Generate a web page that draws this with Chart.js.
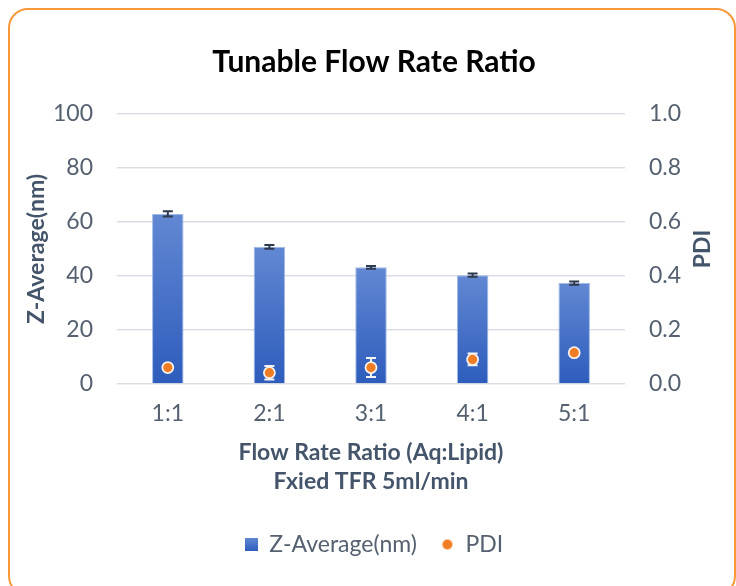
<!DOCTYPE html>
<html>
<head>
<meta charset="utf-8">
<script src="https://cdn.jsdelivr.net/npm/chart.js@4.4.1/dist/chart.umd.min.js"></script>
<style>
html, body { margin: 0; padding: 0; background: #fff; overflow: hidden; }
#moldura { position: absolute; left: 8px; top: 8px; width: 724px; height: 584px; border: 2px solid #f7983a; border-radius: 20px; }
#area { position: absolute; left: 0; top: 0; width: 736px; height: 586px; }
</style>
</head>
<body>
<div id="moldura"></div>
<div id="area"><canvas id="grafico" width="736" height="586"></canvas></div>
<script>
// Dados
const categorias = ['1:1', '2:1', '3:1', '4:1', '5:1'];
const zAverage = [63.0, 50.8, 43.2, 40.3, 37.4];
const zAverageErro = [1.0, 0.7, 0.5, 0.6, 0.6];
const pdi = [0.061, 0.042, 0.061, 0.091, 0.116];
const pdiErro = [0.005, 0.025, 0.035, 0.022, 0.012];
const ticksZ = [0, 20, 40, 60, 80, 100];
const ticksPdi = [0, 0.2, 0.4, 0.6, 0.8, 1.0];

const FONTE = 'Lato, "Open Sans", sans-serif';
const COR_TEXTO = '#556070';
const COR_TITULO_EIXO = '#44546a';
const TAM = 23;

// Pequenos ícones para a legenda
function iconeQuadrado() {
    const c = document.createElement('canvas');
    c.width = 13; c.height = 13;
    const g = c.getContext('2d');
    const grad = g.createLinearGradient(0, 0, 0, 13);
    grad.addColorStop(0, '#5f86d2');
    grad.addColorStop(1, '#2f5ebd');
    g.fillStyle = grad;
    g.fillRect(0, 0, 13, 13);
    return c;
}
function iconeCirculo() {
    const c = document.createElement('canvas');
    c.width = 12; c.height = 12;
    const g = c.getContext('2d');
    g.fillStyle = '#f07c24';
    g.beginPath();
    g.arc(6, 6, 5, 0, Math.PI * 2);
    g.fill();
    return c;
}
const iconeZ = iconeQuadrado();
const iconePdi = iconeCirculo();

// Barras de erro desenhadas com as escalas do gráfico
function desenharErros(chart, indice, valores, erros, escala, cor, largura, meiaTampa) {
    const meta = chart.getDatasetMeta(indice);
    const ctx = chart.ctx;
    ctx.save();
    ctx.strokeStyle = cor;
    ctx.lineWidth = largura;
    meta.data.forEach((el, i) => {
        const x = el.x;
        const yA = escala.getPixelForValue(valores[i] + erros[i]);
        const yB = escala.getPixelForValue(valores[i] - erros[i]);
        ctx.beginPath();
        ctx.moveTo(x, yA); ctx.lineTo(x, yB);
        ctx.moveTo(x - meiaTampa, yA); ctx.lineTo(x + meiaTampa, yA);
        ctx.moveTo(x - meiaTampa, yB); ctx.lineTo(x + meiaTampa, yB);
        ctx.stroke();
    });
    ctx.restore();
}

const barrasErro = {
    id: 'barrasErro',
    afterDatasetDraw(chart, args) {
        if (args.index === 0) {
            desenharErros(chart, 0, zAverage, zAverageErro, chart.scales.y, '#2e3a4f', 2, 5);
        }
    },
    beforeDatasetDraw(chart, args) {
        if (args.index === 1) {
            desenharErros(chart, 1, pdi, pdiErro, chart.scales.y1, '#f4f4f4', 2, 5);
        }
    },
    afterDraw(chart) {
        // título do eixo direito, lido de baixo para cima
        const ctx = chart.ctx;
        const a = chart.chartArea;
        ctx.save();
        ctx.translate(703, (a.top + a.bottom) / 2);
        ctx.rotate(-Math.PI / 2);
        ctx.font = 'bold ' + TAM + 'px ' + FONTE;
        ctx.fillStyle = COR_TITULO_EIXO;
        ctx.textAlign = 'center';
        ctx.textBaseline = 'middle';
        ctx.fillText('PDI', 0, 0);
        ctx.restore();
    }
};

const ctx = document.getElementById('grafico').getContext('2d');
const grafico = new Chart(ctx, {
    type: 'bar',
    data: {
        labels: categorias,
        datasets: [{
            label: 'Z-Average(nm)',
            data: zAverage,
            yAxisID: 'y',
            order: 1,
            backgroundColor: function (context) {
                const chart = context.chart;
                const a = chart.chartArea;
                if (!a || context.raw === undefined) return '#4472c4';
                const topo = chart.scales.y.getPixelForValue(context.raw);
                const g = chart.ctx.createLinearGradient(0, topo, 0, a.bottom);
                g.addColorStop(0, '#6288d3');
                g.addColorStop(1, '#2d5cbc');
                return g;
            },
            borderColor: 'rgba(150,178,228,0.9)',
            borderWidth: 1,
            barPercentage: 0.31,
            categoryPercentage: 1.0
        }, {
            type: 'line',
            label: 'PDI',
            data: pdi,
            yAxisID: 'y1',
            order: 0,
            showLine: false,
            pointRadius: 5.5,
            pointBorderWidth: 1.8,
            pointBackgroundColor: '#f07c24',
            pointBorderColor: '#f6f1ec',
            backgroundColor: '#f07c24'
        }]
    },
    options: {
        responsive: false,
        animation: false,
        devicePixelRatio: 1,
        layout: { padding: { left: 12, right: 0, top: 0, bottom: 20 } },
        plugins: {
            title: {
                display: true,
                text: 'Tunable Flow Rate Ratio',
                color: '#000',
                font: { family: FONTE, size: 30, weight: 'bold' },
                padding: { top: 44, bottom: 34 }
            },
            legend: {
                position: 'bottom',
                labels: {
                    usePointStyle: true,
                    boxWidth: 13,
                    boxHeight: 13,
                    padding: 24,
                    color: COR_TEXTO,
                    font: { family: FONTE, size: TAM },
                    sort: (a, b) => a.datasetIndex - b.datasetIndex,
                    generateLabels: function (chart) {
                        const itens = Chart.defaults.plugins.legend.labels.generateLabels(chart);
                        itens.forEach(it => {
                            it.pointStyle = it.datasetIndex === 0 ? iconeZ : iconePdi;
                        });
                        return itens;
                    }
                }
            },
            tooltip: { enabled: false }
        },
        scales: {
            x: {
                grid: { display: false, drawTicks: false },
                border: { display: false },
                ticks: { color: COR_TEXTO, font: { family: FONTE, size: TAM }, padding: 16 },
                title: {
                    display: true,
                    text: ['Flow Rate Ratio (Aq:Lipid)', 'Fxied TFR 5ml/min'],
                    color: COR_TITULO_EIXO,
                    font: { family: FONTE, size: TAM, weight: 'bold', lineHeight: 1.3 },
                    padding: { top: 0, bottom: 12 }
                },
                afterFit: s => { s.height = 125; }
            },
            y: {
                position: 'left',
                min: 0, max: 100,
                afterBuildTicks: s => { s.ticks = ticksZ.map(v => ({ value: v })); },
                grid: { color: '#dadee4', lineWidth: 1.5, drawTicks: false },
                border: { display: false },
                ticks: { color: COR_TEXTO, font: { family: FONTE, size: TAM }, padding: 24 },
                title: {
                    display: true,
                    text: 'Z-Average(nm)',
                    color: COR_TITULO_EIXO,
                    font: { family: FONTE, size: TAM, weight: 'bold' },
                    padding: { top: 11, bottom: 0 }
                },
                afterFit: s => { s.width = 105; }
            },
            y1: {
                position: 'right',
                min: 0, max: 1,
                afterBuildTicks: s => { s.ticks = ticksPdi.map(v => ({ value: v })); },
                grid: { display: false, drawTicks: false },
                border: { display: false },
                ticks: {
                    color: COR_TEXTO, font: { family: FONTE, size: TAM }, padding: 24,
                    callback: v => Number(v).toFixed(1)
                },
                afterFit: s => { s.width = 111; }
            }
        }
    },
    plugins: [barrasErro]
});
</script>
</body>
</html>
